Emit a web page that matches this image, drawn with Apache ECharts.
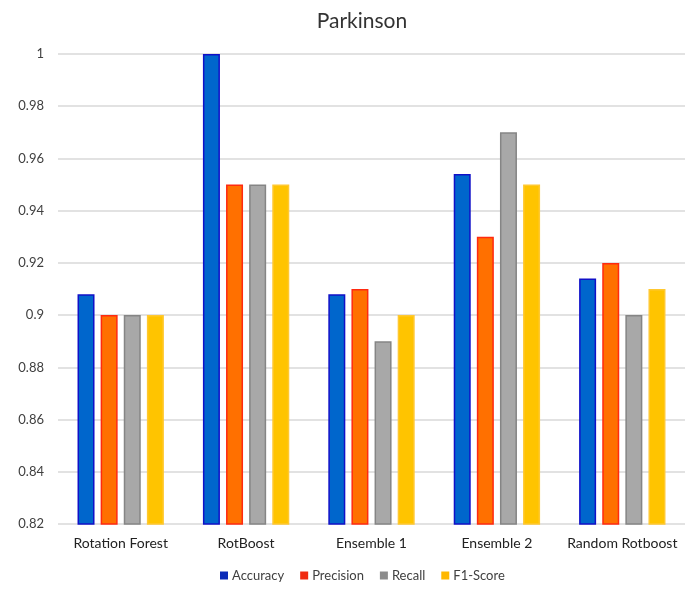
<!DOCTYPE html>
<html>
<head>
<meta charset="utf-8">
<script src="https://cdn.jsdelivr.net/npm/echarts@6/dist/echarts.min.js"></script>
<style>
  html, body { margin: 0; padding: 0; background: #fff; }
  #chart { width: 685px; height: 590px; }
</style>
</head>
<body>
<div id="chart"></div>
<script>
// Classifier comparison on the Parkinson dataset
const categories = ['Rotation Forest', 'RotBoost', 'Ensemble 1', 'Ensemble 2', 'Random Rotboost'];
const accuracy  = [0.908, 1.00, 0.908, 0.954, 0.914];
const precision = [0.90, 0.95, 0.91, 0.93, 0.92];
const recall    = [0.90, 0.95, 0.89, 0.97, 0.90];
const f1Score   = [0.90, 0.95, 0.90, 0.95, 0.91];
const yTicks = { min: 0.82, max: 1, step: 0.02 };

const FONT = 'Lato, "Open Sans", sans-serif';

const seriesDefs = [
  { name: 'Accuracy',  data: accuracy,  fill: '#0066CC', edge: '#1010C8', legend: '#0A2AB8' },
  { name: 'Precision', data: precision, fill: '#FF7000', edge: '#FF2A10', legend: '#F02A10' },
  { name: 'Recall',    data: recall,    fill: '#A8A8A8', edge: '#858585', legend: '#8C8C8C' },
  { name: 'F1-Score',  data: f1Score,   fill: '#FFC400', edge: '#FFC830', legend: '#FFB800' }
];

const chart = echarts.init(document.getElementById('chart'), null, { renderer: 'canvas' });

chart.setOption({
  backgroundColor: '#ffffff',
  animation: false,
  title: {
    text: 'Parkinson',
    left: 357, top: 6, textAlign: 'center',
    textStyle: { fontFamily: FONT, fontSize: 21, fontWeight: 'normal', color: '#333' }
  },
  legend: {
    bottom: 3, left: 215,
    icon: 'rect', itemWidth: 8, itemHeight: 8, itemGap: 16,
    textStyle: { fontFamily: FONT, fontSize: 13, color: '#404040', padding: [0, 0, 0, -1] },
    data: seriesDefs.map(s => ({ name: s.name, itemStyle: { color: s.legend, borderWidth: 0 } }))
  },
  grid: { left: 58, width: 632, top: 54, bottom: 66 },
  xAxis: {
    type: 'category', data: categories,
    axisLine: { show: false }, axisTick: { show: false },
    axisLabel: { interval: 0, fontFamily: FONT, fontSize: 14, color: '#222', margin: 12 }
  },
  yAxis: {
    type: 'value', min: yTicks.min, max: yTicks.max, interval: yTicks.step,
    axisLine: { show: false }, axisTick: { show: false },
    axisLabel: { fontFamily: FONT, fontSize: 13, color: '#404040', margin: 14 },
    splitLine: { lineStyle: { color: '#D9D9D9', width: 1.5 } }
  },
  series: seriesDefs.map(s => ({
    name: s.name,
    type: 'bar',
    data: s.data,
    barWidth: 17,
    barGap: '36%',
    itemStyle: { color: s.fill, borderColor: s.edge, borderWidth: 1.5 }
  }))
});
</script>
</body>
</html>
